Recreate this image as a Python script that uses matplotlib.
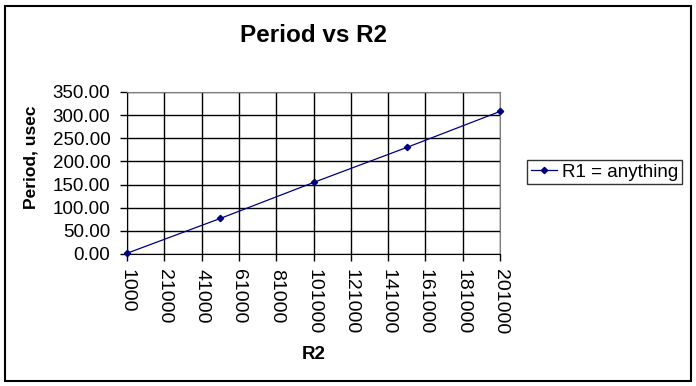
import matplotlib
matplotlib.use("Agg")
import matplotlib.pyplot as plt
import numpy as np
from matplotlib.patches import Rectangle

plt.rcParams['font.family'] = ['Liberation Sans', 'DejaVu Sans']

# data
r2 = [1000, 51000, 101000, 151000, 201000]
period = [1.6, 76.8, 154.5, 230.2, 308.0]
xticks = np.arange(1000, 201001, 20000)
yticks = np.arange(0, 351, 50)

fig = plt.figure(figsize=(6.96, 3.86), dpi=100)
ax = fig.add_axes([127/696, 1 - 254/386, 373/696, 162/386])

ax.plot(r2, period, color='#000080', lw=0.9, marker='D', ms=3.2,
        label='R1 = anything', clip_on=False, zorder=3)

ax.set_xlim(1000, 201000)
ax.set_ylim(0, 350)
ax.set_xticks(xticks)
ax.set_yticks(yticks)
ax.set_xticklabels([str(v) for v in xticks], rotation=270, fontsize=14)
ax.set_yticklabels(['%.2f' % v for v in yticks], fontsize=13.5)
ax.tick_params(direction='out', length=5, width=1, color='black')
ax.tick_params(axis='x', pad=6)
ax.tick_params(axis='y', pad=7)
ax.grid(True, color='black', lw=1)
ax.set_axisbelow(True)
for side in ['left', 'bottom']:
    ax.spines[side].set_color('black')
for side in ['top', 'right']:
    ax.spines[side].set_color('#808080')

ax.set_title('Period vs R2', fontsize=17.5, fontweight='bold', pad=0,
             y=1 + (92 - 36) / 162, va='center')
ax.set_ylabel('Period, usec', fontsize=12.5, fontweight='bold')
ax.yaxis.set_label_coords(-(127 - 38) / 373, (254 - 157) / 162)
ax.set_xlabel('R2', fontsize=13.5, fontweight='bold')
ax.xaxis.set_label_coords(0.5, -(346 - 254) / 162)

leg = ax.legend(loc='center left', bbox_to_anchor=((527 - 127) / 373, (254 - 172) / 162),
                fontsize=13.5, frameon=True, fancybox=False, handlelength=1.4,
                borderpad=0.2, handletextpad=0.25, borderaxespad=0)
leg.get_frame().set_edgecolor('black')
leg.get_frame().set_linewidth(1)

fig.patches.append(Rectangle((5/696, 5/386), 686/696, 375/386, transform=fig.transFigure,
                             fill=False, edgecolor='black', lw=1.5))

fig.savefig('out.png', dpi=100)
